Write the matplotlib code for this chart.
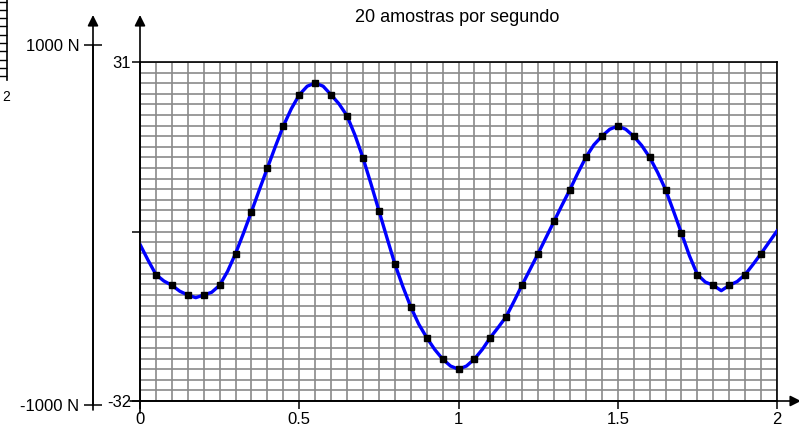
import numpy as np
import matplotlib
matplotlib.use("Agg")
import matplotlib.pyplot as plt

plt.rcParams["font.family"] = ["Liberation Sans", "DejaVu Sans"]

# curve every 0.025 s
t_curve = np.linspace(0, 2, 81)
f_curve = [
    -2.4, -5.3, -8.0, -9.2, -10.0, -11.1, -11.8, -12.3, -11.8, -11.3,
    -10.0, -7.4, -4.1, -0.3, 3.7, 7.8, 11.8, 15.8, 19.6, 22.8,
    25.4, 27.0, 27.6, 27.0, 25.4, 23.7, 21.5, 17.9, 13.7, 8.9,
    3.9, -1.1, -6.0, -10.2, -14.0, -17.2, -19.7, -21.9, -23.7, -25.0,
    -25.6, -25.0, -23.7, -21.9, -19.7, -17.8, -15.8, -12.9, -9.9, -7.0,
    -4.1, -1.1, 1.9, 4.9, 7.8, 10.9, 13.8, 16.1, 17.7, 19.0,
    19.6, 19.0, 17.7, 16.0, 13.8, 11.0, 7.8, 3.8, -0.3, -4.5,
    -8.0, -9.4, -10.0, -11.0, -10.0, -9.3, -8.0, -6.1, -4.1, -2.0,
    0.1,
]
# samples at 20 per second (t = 0.05 ... 1.95)
t_samp = t_curve[2:-1:2]
f_samp = np.array(f_curve)[2:-1:2]

x_ticks = [0, 0.5, 1, 1.5, 2]
x_labels = ["0", "0.5", "1", "1.5", "2"]
y_lim = (-31.5, 31.5)
y_labels = ["-32", "", "31"]
force_ticks = [-1000, 1000]
force_labels = ["-1000 N", "1000 N"]

W, H = 799, 426
fig = plt.figure(figsize=(W / 100, H / 100), dpi=100)

ax = fig.add_axes([140 / W, (H - 401) / H, 637 / W, 339 / H])
ax.set_xlim(0, 2)
ax.set_ylim(*y_lim)
ax.set_xticks(x_ticks)
ax.set_xticklabels(x_labels)
ax.set_yticks([y_lim[0], 0, y_lim[1]])
ax.set_yticklabels(y_labels)
ax.set_xticks(np.linspace(0, 2, 41), minor=True)
ax.set_yticks(np.linspace(y_lim[0], y_lim[1], 33), minor=True)
ax.grid(which="both", color="#8a8a8a", linewidth=1.2, zorder=0)
ax.tick_params(which="minor", length=0)
ax.tick_params(which="major", direction="out", length=5.5, width=1.1,
               labelsize=12, pad=1, color="black")
ax.tick_params(axis="x", pad=2.5)
for s in ax.spines.values():
    s.set_linewidth(1.2)
    s.set_color("black")
ax.set_axisbelow(True)

ax.plot(t_curve, f_curve, color="#0000ff", linewidth=2.4, zorder=3)
ax.plot(t_samp, f_samp, "s", color="black", markersize=4.5, zorder=4)

arrow = dict(arrowstyle="-|>", mutation_scale=16, linewidth=1.2,
             color="black", shrinkA=0, shrinkB=0)
ax.annotate("", xy=(0, (401 - 15) / 339), xytext=(0, -12 / 339),
            xycoords="axes fraction", arrowprops=arrow, annotation_clip=False)
ax.annotate("", xy=(661 / 637, 0), xytext=(-10 / 637, 0),
            xycoords="axes fraction", arrowprops=arrow, annotation_clip=False)

# force scale on the left
ax2 = fig.add_axes([93 / W, (H - 405) / H, 0.0001, 360 / H])
ax2.set_ylim(-1000, 1000)
ax2.set_xticks([])
ax2.set_yticks(force_ticks)
ax2.set_yticklabels(force_labels)
ax2.tick_params(axis="y", direction="inout", length=13.5, width=1.1,
                labelsize=12, pad=3)
for k in ["top", "right", "bottom"]:
    ax2.spines[k].set_visible(False)
ax2.spines["left"].set_linewidth(1.2)
ax2.patch.set_visible(False)
ax2.annotate("", xy=(0, (405 - 15) / 360), xytext=(0, -5 / 360),
             xycoords="axes fraction", arrowprops=arrow, annotation_clip=False)

# cut-off scale at the far left edge
ax3 = fig.add_axes([7 / W, (H - 80) / H, 0.0001, 80 / H])
ax3.set_ylim(-0.48, 9.2)
ax3.set_xticks([])
ax3.set_yticks(np.arange(10))
ax3.set_yticklabels([])
ax3.tick_params(axis="y", direction="out", length=6, width=1.0)
for k in ["top", "right", "bottom"]:
    ax3.spines[k].set_visible(False)
ax3.spines["left"].set_linewidth(1.2)
ax3.patch.set_visible(False)
fig.text(6 / W, 1 - 97 / H, "2", fontsize=10, ha="center", va="center")

fig.text(457 / W, 1 - 18 / H, "20 amostras por segundo", fontsize=13,
         ha="center", va="center")

fig.savefig("out.png", dpi=100)
